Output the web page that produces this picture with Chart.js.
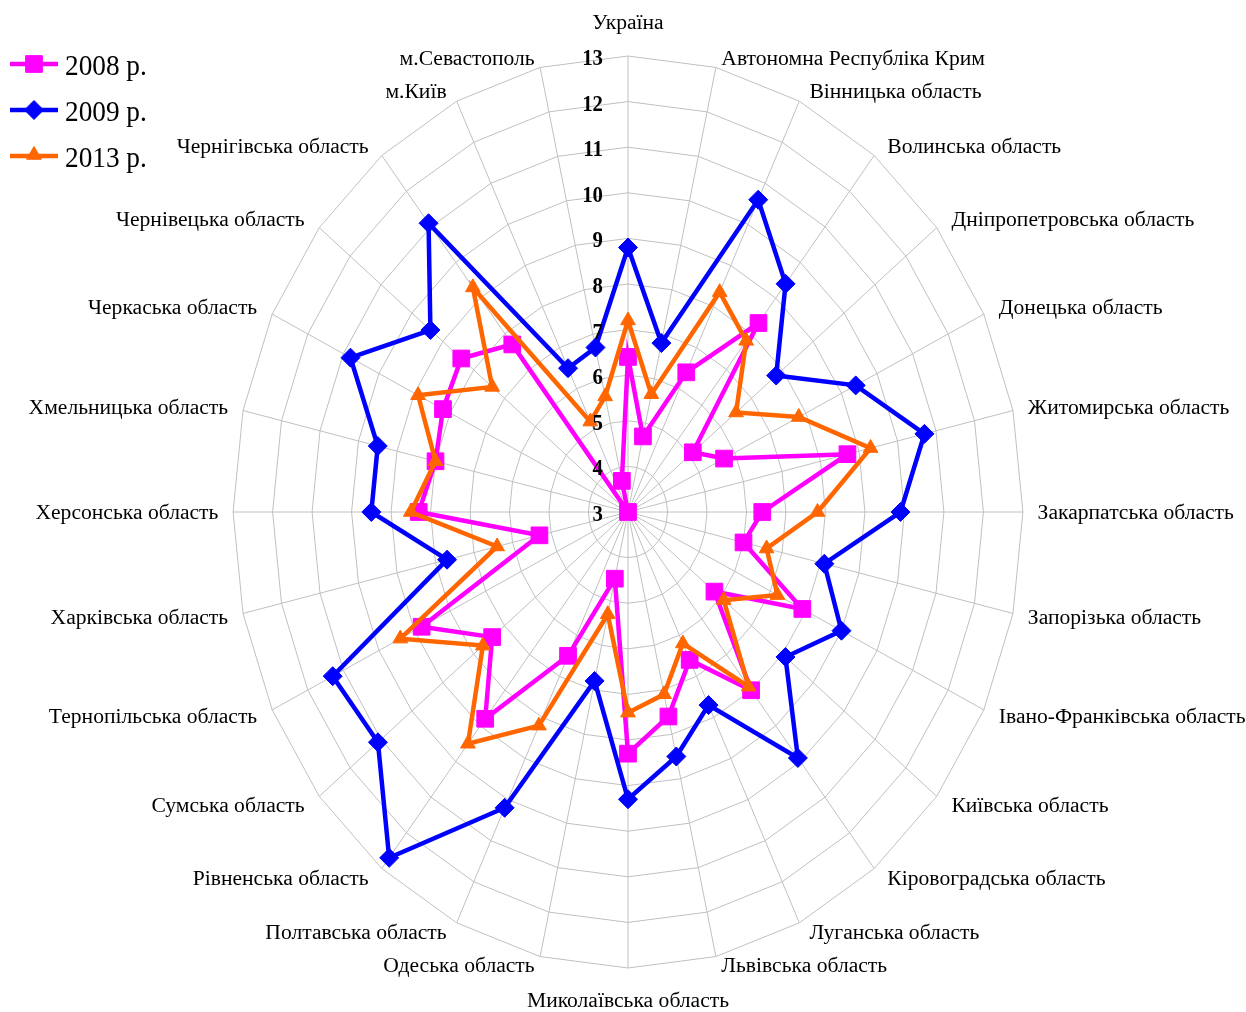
<!DOCTYPE html>
<html lang="uk">
<head>
<meta charset="utf-8">
<title>Радарна діаграма по регіонах</title>
<script src="https://cdn.jsdelivr.net/npm/chart.js@4.4.1/dist/chart.umd.min.js"></script>
<style>
  html, body { margin: 0; padding: 0; background: #fff; }
  #wrap { width: 1246px; height: 1012px; }
</style>
</head>
<body>
<div id="wrap"><canvas id="myChart" width="1246" height="1012"></canvas></div>
<script>
// Регіони (осі діаграми)
const regions = [
    'Україна', 'Автономна Республіка Крим', 'Вінницька область', 'Волинська область',
    'Дніпропетровська область', 'Донецька область', 'Житомирська область', 'Закарпатська область',
    'Запорізька область', 'Івано-Франківська область', 'Київська область', 'Кіровоградська область',
    'Луганська область', 'Львівська область', 'Миколаївська область', 'Одеська область',
    'Полтавська область', 'Рівненська область', 'Сумська область', 'Тернопільська область',
    'Харківська область', 'Херсонська область', 'Хмельницька область', 'Черкаська область',
    'Чернівецька область', 'Чернігівська область', 'м.Київ', 'м.Севастополь'
];

// Підписи шкали
const tickLabels = ['3', '4', '5', '6', '7', '8', '9', '10', '11', '12', '13'];

// Значення по роках
const data2008 = [6.4, 4.7, 6.4, 8.3, 5.1, 5.7, 8.7, 6.4, 6.0, 7.9, 5.8, 8.0, 6.6, 7.6,
                  8.3, 4.5, 6.5, 8.8, 7.4, 8.8, 5.3, 8.3, 8.0, 8.2, 8.4, 7.7, 3.0, 3.7];
const data2009 = [8.8, 6.8, 10.6, 9.4, 7.8, 9.4, 10.7, 9.9, 8.1, 9.0, 8.1, 9.9, 7.7, 8.5,
                  9.3, 6.8, 10.2, 12.7, 11.1, 11.3, 7.7, 9.5, 9.5, 10.8, 9.4, 11.1, 6.5, 6.7];
const data2013 = [7.2, 5.65, 8.35, 7.8, 6.5, 7.8, 9.3, 7.8, 6.6, 7.2, 6.1, 7.9, 6.2, 7.1,
                  7.4, 5.3, 8.2, 9.5, 7.7, 9.4, 6.4, 8.5, 8.0, 8.9, 7.4, 9.3, 5.2, 5.6];

const seriesNames = ['2008 р.', '2009 р.', '2013 р.'];

// Оригінальний рисунок стиснутий по горизонталі
const SQUEEZE = 0.866;

// Еліптична сітка: стискаємо x-координату точок радіальної шкали
const RadialScale = Chart.registry.getScale('radialLinear');
const origGetPointPosition = RadialScale.prototype.getPointPosition;
RadialScale.prototype.getPointPosition = function(index, distance, additionalAngle) {
    const p = origGetPointPosition.call(this, index, distance, additionalAngle);
    return { x: this.xCenter + (p.x - this.xCenter) * SQUEEZE, y: p.y, angle: p.angle };
};

// Текст з горизонтальним масштабом
function scaledText(ctx, text, x, y, align, sx) {
    ctx.save();
    ctx.translate(x, y);
    ctx.scale(sx, 1);
    ctx.textAlign = align;
    ctx.fillText(text, 0, 0);
    ctx.restore();
}

const styles = [
    { color: '#ff00ff', pointStyle: 'rect', radius: 11.8 },
    { color: '#0000ff', pointStyle: 'rectRot', radius: 9.5 },
    { color: '#ff6600', pointStyle: 'triangle', radius: 8.5 }
];

// Підписи регіонів, шкали та легенда
const textPlugin = {
    id: 'textPlugin',
    afterDraw(chart) {
        const ctx = chart.ctx;
        const scale = chart.scales.r;
        const cx = scale.xCenter;
        const cy = scale.yCenter;
        const R = scale.drawingArea;

        ctx.save();
        ctx.fillStyle = '#000';

        // Підписи регіонів
        ctx.font = "21.6px 'Liberation Serif', 'Times New Roman', serif";
        ctx.textBaseline = 'middle';
        regions.forEach((name, i) => {
            const a = scale.getIndexAngle(i);
            const s = Math.sin(a);
            const c = Math.cos(a);
            if (Math.abs(s) < 0.01) {
                const y = c > 0 ? cy - (R + 33) : cy + (R + 33);
                scaledText(ctx, name, cx, y, 'center', 1);
            } else {
                const rx = R + 17 + 12 * c * c;
                const ry = R + 17 - 8 * c * c;
                const x = cx + rx * s * SQUEEZE;
                const y = cy - ry * c + 1;
                scaledText(ctx, name, x, y, s > 0 ? 'left' : 'right', 1);
            }
        });

        // Підписи шкали
        ctx.font = "bold 24px 'Liberation Serif', 'Times New Roman', serif";
        ctx.textBaseline = 'alphabetic';
        tickLabels.forEach(t => {
            const d = scale.getDistanceFromCenterForValue(Number(t));
            scaledText(ctx, t, cx - 25, cy - d + 9, 'right', SQUEEZE);
        });

        // Легенда
        ctx.font = "29px 'Liberation Serif', 'Times New Roman', serif";
        seriesNames.forEach((name, i) => {
            const st = styles[i];
            const y = 64 + i * 46;
            ctx.strokeStyle = st.color;
            ctx.fillStyle = st.color;
            ctx.lineWidth = 4.5;
            ctx.beginPath();
            ctx.moveTo(10, y);
            ctx.lineTo(58, y);
            ctx.stroke();
            ctx.lineWidth = 1;
            Chart.helpers.drawPoint(ctx, {
                pointStyle: st.pointStyle, radius: st.radius, rotation: 0, borderWidth: 1
            }, 34, y + (st.pointStyle === 'triangle' ? -1 : 0));
            ctx.fillStyle = '#000';
            scaledText(ctx, name, 65, y + 11, 'left', 0.94);
        });

        ctx.restore();
    }
};

function makeDataset(label, data, st, order) {
    return {
        label: label,
        data: data,
        borderColor: st.color,
        backgroundColor: st.color,
        borderWidth: 4.5,
        fill: false,
        tension: 0,
        pointStyle: st.pointStyle,
        pointRadius: st.radius,
        pointBackgroundColor: st.color,
        pointBorderColor: st.color,
        pointBorderWidth: 1,
        order: order
    };
}

const ctx = document.getElementById('myChart').getContext('2d');
const radarChart = new Chart(ctx, {
    type: 'radar',
    data: {
        labels: regions,
        datasets: [
            makeDataset(seriesNames[0], data2008, styles[0], 3),
            makeDataset(seriesNames[1], data2009, styles[1], 2),
            makeDataset(seriesNames[2], data2013, styles[2], 1)
        ]
    },
    options: {
        responsive: false,
        animation: false,
        devicePixelRatio: 1,
        layout: {
            padding: { left: 172, right: 162, top: 56, bottom: 44 }
        },
        plugins: {
            legend: { display: false },
            tooltip: { enabled: false }
        },
        scales: {
            r: {
                min: 3,
                max: 13,
                ticks: { display: false, stepSize: 1 },
                pointLabels: { display: false },
                grid: { color: '#c0c0c0', lineWidth: 1 },
                angleLines: { color: '#c0c0c0', lineWidth: 1 }
            }
        }
    },
    plugins: [textPlugin]
});
</script>
</body>
</html>
